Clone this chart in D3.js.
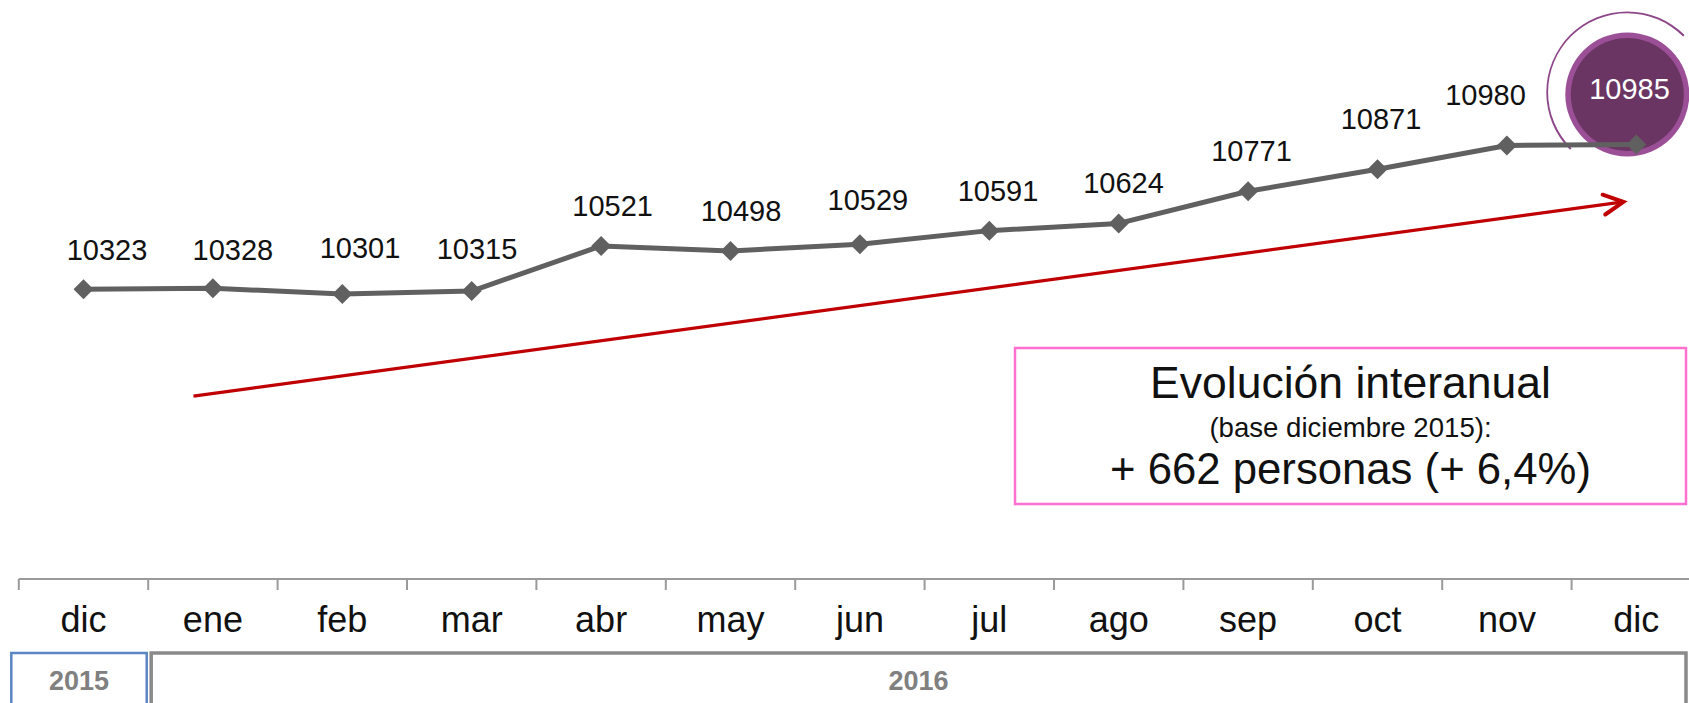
<!DOCTYPE html>
<html><head><meta charset="utf-8">
<script src="https://cdn.jsdelivr.net/npm/d3@7"></script>
<style>
html,body{margin:0;padding:0;background:#fff;}
svg{display:block;font-family:"Liberation Sans",Arial,sans-serif;}
</style></head>
<body>
<svg id="chart" width="1689" height="703"></svg>
<script>
// ---- data ----
const months = ["dic","ene","feb","mar","abr","may","jun","jul","ago","sep","oct","nov","dic"];
const values = [10323,10328,10301,10315,10521,10498,10529,10591,10624,10771,10871,10980,10985];
const years = ["2015","2016"];
const yearSpans = [[0,0],[1,12]];
// label offsets (layout, px) relative to each point
const labelDx = [23.5,20,17.7,5.3,11.6,10.5,8,8.7,4.8,3.4,3.5,-21.4,-6.8];
const labelDy = [-29.1,-28.1,-36.4,-32.3,-30.4,-30.3,-34.7,-29.7,-30.5,-30.4,-40.4,-40.6,-45.5];
const boxLines = ["Evolución interanual","(base diciembre 2015):","+ 662 personas (+ 6,4%)"];
// trend arrow in (index, value) space
const trendStart = [0.85, 9835];
const trendEnd = [11.90, 10722];

const svg = d3.select("#chart");
const idx = months.map((m,i)=>i);

const x = d3.scaleBand().domain(idx).range([18.8, 18.8 + 13*129.4]).padding(0);
const bw = x.bandwidth();
const xc = i => x(i) + bw/2;
const xi = d3.scaleLinear().domain([0,12]).range([xc(0), xc(12)]);
const y = d3.scaleLinear().domain([10000, 11000]).range([360, 141.1]);

// ---- axis ----
const axisY = 579;
const ax = svg.append("g").attr("transform",`translate(0,${axisY})`);
ax.append("line").attr("x1",x(0)).attr("x2",1689).attr("y1",0).attr("y2",0)
  .attr("stroke","#9a9a9a").attr("stroke-width",2);
ax.selectAll("line.tk").data(idx).enter().append("line").attr("class","tk")
  .attr("x1",d=>x(d)).attr("x2",d=>x(d)).attr("y1",0).attr("y2",11)
  .attr("stroke","#9a9a9a").attr("stroke-width",2);
const axisG = svg.append("g").attr("transform",`translate(0,${axisY})`)
  .call(d3.axisBottom(x).tickSize(0).tickPadding(0).tickFormat(i=>months[i]));
axisG.select(".domain").remove();
axisG.selectAll("text").attr("y",53).attr("dy",0)
  .attr("font-size",36).attr("fill","#111").attr("font-family","Liberation Sans, Arial, sans-serif");

// ---- year boxes ----
const yearColors = ["#5b86c4","#8a8a8a"];
const yearWidths = [2.5,3.5];
years.forEach((yr,k)=>{
  const s = yearSpans[k][0], e = yearSpans[k][1];
  const x0 = k===0 ? x(s) - 7.5 : x(s) + 3;
  const x1 = k===0 ? x(e) + bw - 1.5 : 1686;
  svg.append("rect").attr("x",x0).attr("y",653).attr("width",x1-x0).attr("height",70)
    .attr("fill","none").attr("stroke",yearColors[k]).attr("stroke-width",yearWidths[k]);
  svg.append("text").attr("x",(x0+x1)/2).attr("y",690).attr("text-anchor","middle")
    .attr("font-size",27).attr("font-weight","bold").attr("fill","#808080").text(yr);
});

// ---- trend arrow ----
const ax0 = xi(trendStart[0]), ay0 = y(trendStart[1]);
const ax1 = xi(trendEnd[0]), ay1 = y(trendEnd[1]);
svg.append("line").attr("x1",ax0).attr("y1",ay0).attr("x2",ax1).attr("y2",ay1)
  .attr("stroke","#c00000").attr("stroke-width",3.2);
const ang = Math.atan2(ay1-ay0, ax1-ax0);
const hl = 22, ha = 27*Math.PI/180;
const p1 = [ax1 - hl*Math.cos(ang-ha), ay1 - hl*Math.sin(ang-ha)];
const p2 = [ax1 - hl*Math.cos(ang+ha), ay1 - hl*Math.sin(ang+ha)];
svg.append("path").attr("d",`M${p1[0]},${p1[1]}L${ax1},${ay1}L${p2[0]},${p2[1]}`)
  .attr("fill","none").attr("stroke","#c00000").attr("stroke-width",4)
  .attr("stroke-linecap","round").attr("stroke-linejoin","miter");

// ---- highlight circle ----
const last = values.length-1;
const ccx = xc(last) - 9, ccy = y(values[last]) - 50;
svg.append("path").attr("d", d3.arc().innerRadius(79).outerRadius(81)
  .startAngle(-135*Math.PI/180).endAngle(45*Math.PI/180)())
  .attr("transform",`translate(${ccx},${ccy-2})`).attr("fill","#8d4688");
svg.append("circle").attr("cx",ccx).attr("cy",ccy).attr("r",62).attr("fill","#9b4f96");
svg.append("circle").attr("cx",ccx).attr("cy",ccy).attr("r",56.5).attr("fill","#6b3563");

// ---- line ----
svg.append("path").datum(values)
  .attr("d", d3.line().x((d,i)=>xc(i)).y(d=>y(d)))
  .attr("fill","none").attr("stroke","#606060").attr("stroke-width",5).attr("stroke-linejoin","round");
const dm = 10;
svg.selectAll("path.mk").data(values).enter().append("path").attr("class","mk")
  .attr("d",(d,i)=>{const cx=xc(i), cy=y(d);return `M${cx},${cy-dm}L${cx+dm},${cy}L${cx},${cy+dm}L${cx-dm},${cy}Z`;})
  .attr("fill","#606060");

// ---- value labels ----
svg.selectAll("text.vl").data(values).enter().append("text").attr("class","vl")
  .attr("x",(d,i)=>xc(i)+labelDx[i]).attr("y",(d,i)=>y(d)+labelDy[i])
  .attr("text-anchor","middle").attr("font-size",29)
  .attr("fill",(d,i)=>i===last?"#ffffff":"#111").text(d=>d);

// ---- info box ----
svg.append("rect").attr("x",1015).attr("y",348).attr("width",671).attr("height",156)
  .attr("fill","none").attr("stroke","#ff6fcf").attr("stroke-width",2.5);
const bcx = (1015+1686)/2;
const boxY = [398,437,484], boxSz = [44.5,27.6,43.7];
boxLines.forEach((t,k)=>{
  svg.append("text").attr("x",bcx).attr("y",boxY[k]).attr("text-anchor","middle")
    .attr("font-size",boxSz[k]).attr("fill","#111").text(t);
});
</script>
</body></html>
